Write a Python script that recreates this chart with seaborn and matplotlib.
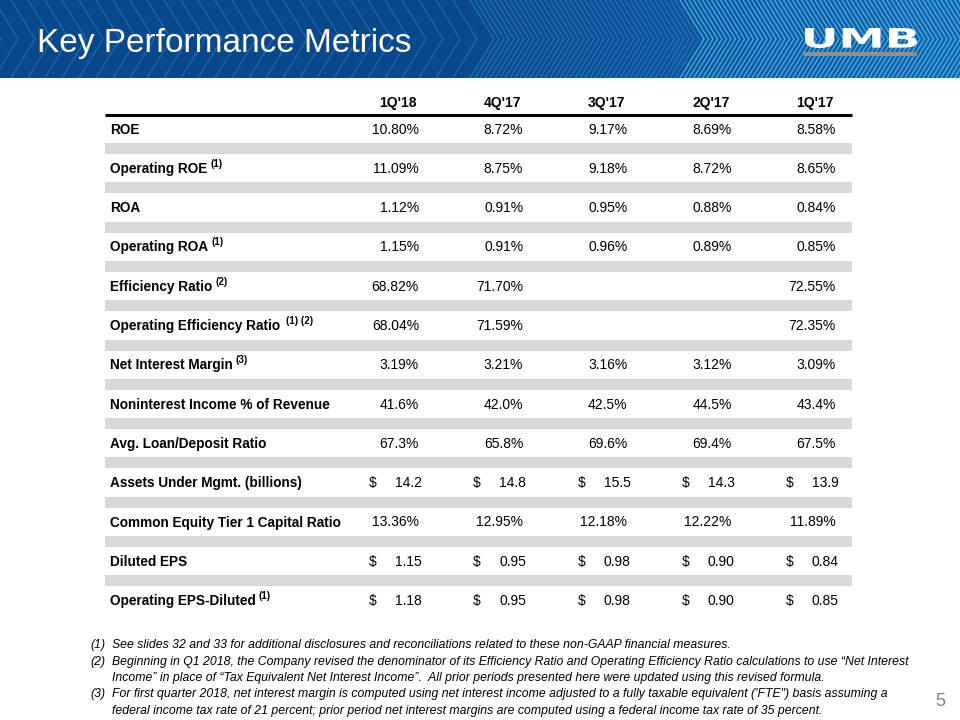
import numpy as np
import pandas as pd
import matplotlib
matplotlib.use("Agg")
import matplotlib.pyplot as plt
import seaborn as sns
from matplotlib.patches import Rectangle, PathPatch
from matplotlib.textpath import TextPath
from matplotlib.font_manager import FontProperties
from matplotlib.transforms import Affine2D

periods = ["1Q'18", "4Q'17", "3Q'17", "2Q'17", "1Q'17"]
metrics = ["ROE", "Operating ROE", "ROA", "Operating ROA", "Efficiency Ratio",
           "Operating Efficiency Ratio", "Net Interest Margin",
           "Noninterest Income % of Revenue", "Avg. Loan/Deposit Ratio",
           "Assets Under Mgmt. (billions)", "Common Equity Tier 1 Capital Ratio",
           "Diluted EPS", "Operating EPS-Diluted"]
notes = ["", "(1)", "", "(1)", "(2)", "(1) (2)", "(3)", "", "", "", "", "", "(1)"]
formats = ["pct2", "pct2", "pct2", "pct2", "pct2", "pct2", "pct2",
           "pct1", "pct1", "usd1", "pct2", "usd2", "usd2"]

roe = [10.80, 8.72, 9.17, 8.69, 8.58]
op_roe = [11.09, 8.75, 9.18, 8.72, 8.65]
roa = [1.12, 0.91, 0.95, 0.88, 0.84]
op_roa = [1.15, 0.91, 0.96, 0.89, 0.85]
efficiency = [68.82, 71.70, None, None, 72.55]
op_efficiency = [68.04, 71.59, None, None, 72.35]
nim = [3.19, 3.21, 3.16, 3.12, 3.09]
nonint_income = [41.6, 42.0, 42.5, 44.5, 43.4]
loan_deposit = [67.3, 65.8, 69.6, 69.4, 67.5]
aum = [14.2, 14.8, 15.5, 14.3, 13.9]
cet1 = [13.36, 12.95, 12.18, 12.22, 11.89]
eps = [1.15, 0.95, 0.98, 0.90, 0.84]
op_eps = [1.18, 0.95, 0.98, 0.90, 0.85]

footnotes = [
    ("(1)", "See slides 32 and 33 for additional disclosures and reconciliations related to these non-GAAP financial measures."),
    ("(2)", "Beginning in Q1 2018, the Company revised the denominator of its Efficiency Ratio and Operating Efficiency Ratio calculations to use \u201cNet Interest"),
    ("", "Income\u201d in place of \u201cTax Equivalent Net Interest Income\u201d.  All prior periods presented here were updated using this revised formula."),
    ("(3)", "For first quarter 2018, net interest margin is computed using net interest income adjusted to a fully taxable equivalent ('FTE\") basis assuming a"),
    ("", "federal income tax rate of 21 percent; prior period net interest margins are computed using a federal income tax rate of 35 percent."),
]

df = pd.DataFrame([roe, op_roe, roa, op_roa, efficiency, op_efficiency, nim,
                   nonint_income, loan_deposit, aum, cet1, eps, op_eps],
                  index=metrics, columns=periods)

sns.set_theme(style="white")
plt.rcParams["font.family"] = ["Liberation Sans", "DejaVu Sans"]

fig = plt.figure(figsize=(9.6, 7.2), dpi=100)
ax = fig.add_axes([0, 0, 1, 1])
ax.set_xlim(0, 960)
ax.set_ylim(720, 0)
ax.axis("off")

# banner background: navy on the left, brighter blue to the right
banner_h = 78
grad = np.clip((np.linspace(0, 1, 256) - 0.45) / 0.55, 0, 1)
left = np.array([9, 72, 138]) / 255
right = np.array([18, 98, 170]) / 255
img = left[None, :] * (1 - grad[:, None]) + right[None, :] * grad[:, None]
ax.imshow(img[None, :, :], extent=[0, 960, banner_h, 0], aspect="auto", zorder=0)

x0 = -40.0
while x0 < 980:
    t = min(max(x0, 0) / 960, 1)
    if x0 < 470:
        step, col, a, lw = 17, (0.22, 0.52, 0.80), 0.55, 0.9
    elif x0 < 680:
        step, col, a, lw = 5, (0.25, 0.60, 0.88), 0.55, 0.8
    else:
        step, col, a, lw = 4.5, (0.35, 0.78, 0.98), 0.75, 1.0
    ax.plot([x0, x0 + 24, x0], [0, banner_h / 2, banner_h], color=col,
            lw=lw, alpha=a, zorder=1, solid_joinstyle="miter")
    x0 += step

ax.text(37, 52, "Key Performance Metrics", color="white", fontsize=24,
        va="baseline", ha="left", zorder=3)

# logo
tp = TextPath((0, 0), "UMB", prop=FontProperties(family="DejaVu Sans", weight="bold"))
ext = tp.get_extents()
sx = 112 / ext.width
sy = 20 / ext.height
tr = Affine2D().translate(-ext.x0, -ext.y0).scale(sx, -sy).translate(805, 48)
ax.add_patch(PathPatch(tr.transform_path(tp), facecolor="white", edgecolor="none", zorder=4))
ax.add_patch(Rectangle((804, 52), 113, 4, facecolor="#8e8e8e", edgecolor="none", zorder=4))

# table
tab_left, tab_right = 105, 852
label_x = 110
header_y = 103
row0 = 129.5
pitch = 39.3
col_pitch = 104.2

renderer = fig.canvas.get_renderer()
inv = ax.transData.inverted()

for j, p in enumerate(periods):
    ax.text(417 + col_pitch * j, header_y, p, fontsize=10, fontweight="bold",
            ha="right", va="center", color="black")
ax.plot([tab_left, tab_right], [115, 115], color="black", lw=2.2,
        solid_capstyle="butt")

for i, m in enumerate(df.index):
    y = row0 + pitch * i
    t = ax.text(label_x, y, m, fontsize=9.8, fontweight="bold", ha="left",
                va="center", color="black")
    if notes[i]:
        bb = t.get_window_extent(renderer)
        xr = inv.transform((bb.x1, bb.y1))[0]
        gap = 6 if notes[i] == "(1) (2)" else 3
        ax.text(xr + gap, y - 5, notes[i], fontsize=7, fontweight="bold",
                ha="left", va="center", color="black")
    for j, p in enumerate(df.columns):
        v = df.loc[m, p]
        if v is None or pd.isna(v):
            continue
        fmt = formats[i]
        if fmt.startswith("pct"):
            s = f"{v:.{fmt[-1]}f}%"
            ax.text(419 + col_pitch * j, y, s, fontsize=10, ha="right",
                    va="center", color="black")
        else:
            s = f"{v:.{fmt[-1]}f}"
            ax.text(369 + col_pitch * j, y, "$", fontsize=10, ha="left",
                    va="center", color="black")
            ax.text(422 + col_pitch * j, y, s, fontsize=10, ha="right",
                    va="center", color="black")
    if i < len(df.index) - 1:
        ax.add_patch(Rectangle((tab_left, y + 13.5), tab_right - tab_left, 11,
                               facecolor="#d9d9d9", edgecolor="none", zorder=0.5))

# footnotes
for k, (num, txt) in enumerate(footnotes):
    y = 645 + 16.5 * k
    if num:
        ax.text(90, y, num, fontsize=8.8, fontstyle="italic", ha="left",
                va="center", color="black")
    ax.text(112, y, txt, fontsize=8.8, fontstyle="italic", ha="left",
            va="center", color="black")

ax.text(945, 702, "5", fontsize=13, color="#808080", ha="right", va="center")

fig.savefig("out.png", dpi=100)
